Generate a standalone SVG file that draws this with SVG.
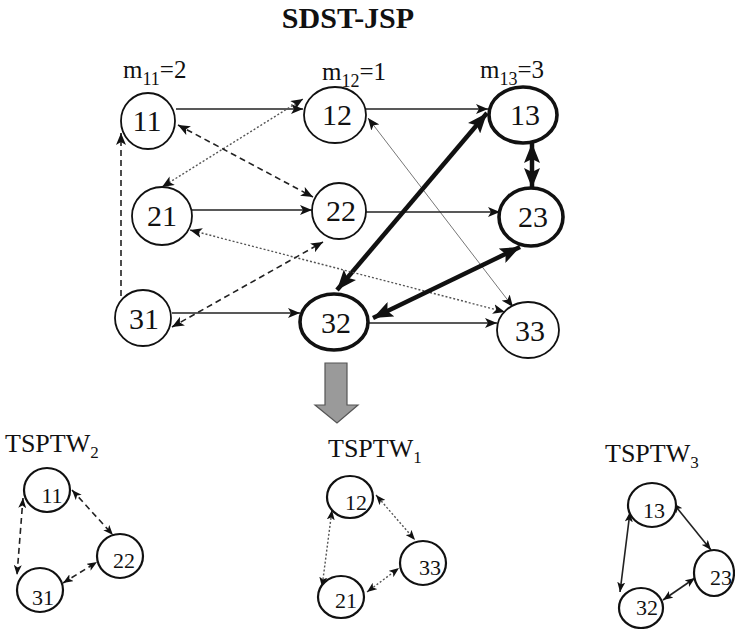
<svg xmlns="http://www.w3.org/2000/svg" width="735" height="629" viewBox="0 0 735 629">
<style>
  .t { font-family: "Liberation Serif", "Times New Roman", "DejaVu Serif", serif; fill: #111; }
  .nd { fill: #fff; stroke: #111; stroke-width: 1.8; }
  .ndb { fill: #fff; stroke: #111; stroke-width: 3.6; }
  .sn { fill: #fff; stroke: #111; stroke-width: 2.2; }
  .lbl { font-family: "Liberation Serif", "Times New Roman", serif; font-size: 30px; text-anchor: middle; fill: #111; }
  .sl { font-family: "Liberation Serif", "Times New Roman", serif; font-size: 22px; text-anchor: middle; fill: #111; }
  .solid { fill: none; stroke: #222; stroke-width: 1.6; }
  .dash { fill: none; stroke: #222; stroke-width: 1.6; stroke-dasharray: 6 4; }
  .dot { fill: none; stroke: #555; stroke-width: 1.4; stroke-dasharray: 2 2; }
  .thin { fill: none; stroke: #777; stroke-width: 1; }
  .thick { fill: none; stroke: #111; stroke-width: 4.5; }
</style>
<defs>
  <marker id="ah" viewBox="0 0 12 10" refX="12" refY="5" markerWidth="12" markerHeight="10" markerUnits="userSpaceOnUse" orient="auto-start-reverse">
    <path d="M0,0 L12,5 L0,10 L3,5 z" fill="#111"/>
  </marker>
  <marker id="ahb" viewBox="0 0 20 16" refX="20" refY="8" markerWidth="20" markerHeight="16" markerUnits="userSpaceOnUse" orient="auto-start-reverse">
    <path d="M0,0 L20,8 L0,16 L4,8 z" fill="#111"/>
  </marker>
  <marker id="ahs" viewBox="0 0 10 8" refX="10" refY="4" markerWidth="10" markerHeight="8" markerUnits="userSpaceOnUse" orient="auto-start-reverse">
    <path d="M0,0 L10,4 L0,8 L2.5,4 z" fill="#111"/>
  </marker>
</defs>

<text class="t" x="348" y="28" font-size="30" font-weight="bold" text-anchor="middle">SDST-JSP</text>
<text class="t" x="123" y="78" font-size="25">m<tspan font-size="18" dy="7">11</tspan><tspan dy="-7">=2</tspan></text>
<text class="t" x="322" y="80" font-size="25">m<tspan font-size="18" dy="7">12</tspan><tspan dy="-7">=1</tspan></text>
<text class="t" x="480" y="78" font-size="25">m<tspan font-size="18" dy="7">13</tspan><tspan dy="-7">=3</tspan></text>

<g id="connectors">
  <path class="solid" d="M176,109 L303,109" marker-end="url(#ah)"/>
  <path class="dot" d="M162,187 L303,99" marker-start="url(#ah)" marker-end="url(#ah)"/>
  <path class="dash" d="M178,125 L313,197" marker-start="url(#ah)" marker-end="url(#ah)"/>
  <path class="dash" d="M121,296 L121,133" marker-end="url(#ah)"/>
  <path class="solid" d="M192,210 L312,210" marker-end="url(#ah)"/>
  <path class="solid" d="M366,109 L488,109" marker-end="url(#ah)"/>
  <path class="thin" d="M368,118 L513,307" marker-start="url(#ah)" marker-end="url(#ah)"/>
  <path class="solid" d="M366,212 L500,212" marker-end="url(#ah)"/>
  <path class="thick" d="M337,290 L487,113" marker-start="url(#ahb)" marker-end="url(#ahb)"/>
  <path class="thick" d="M532,143 L532,188" marker-start="url(#ahb)" marker-end="url(#ahb)"/>
  <path class="dot" d="M190,230 L505,312" marker-start="url(#ah)" marker-end="url(#ah)"/>
  <path class="dash" d="M172,327 L323,242" marker-start="url(#ah)" marker-end="url(#ah)"/>
  <path class="solid" d="M172,313 L300,313" marker-end="url(#ah)"/>
  <path class="thick" d="M373,318 L520,247" marker-start="url(#ahb)" marker-end="url(#ahb)"/>
  <path class="solid" d="M368,323 L497,323" marker-end="url(#ah)"/>

  <path class="dash" d="M23,498 L17,575" marker-start="url(#ahs)" marker-end="url(#ahs)"/>
  <path class="dash" d="M72,490 L113,535" marker-start="url(#ahs)" marker-end="url(#ahs)"/>
  <path class="dash" d="M63,583 L97,562" marker-start="url(#ahs)" marker-end="url(#ahs)"/>
  <path class="dot" d="M332,510 L322,587" marker-start="url(#ahs)" marker-end="url(#ahs)"/>
  <path class="dot" d="M376,495 L415,540" marker-start="url(#ahs)" marker-end="url(#ahs)"/>
  <path class="dot" d="M367,592 L399,568" marker-start="url(#ahs)" marker-end="url(#ahs)"/>
  <path class="solid" d="M630,512 L620,592" marker-start="url(#ahs)" marker-end="url(#ahs)"/>
  <path class="solid" d="M673,503 L711,550" marker-start="url(#ahs)" marker-end="url(#ahs)"/>
  <path class="solid" d="M663,600 L695,578" marker-start="url(#ahs)" marker-end="url(#ahs)"/>
</g>

<g id="n11"><ellipse class="nd" cx="148" cy="121" rx="27" ry="28"/><text class="lbl" x="147" y="131">11</text></g>
<g id="n12"><ellipse class="nd" cx="335" cy="115" rx="31" ry="28"/><text class="lbl" x="337" y="125">12</text></g>
<g id="n13"><ellipse class="ndb" cx="523" cy="115" rx="34" ry="28"/><text class="lbl" x="525" y="125">13</text></g>
<g id="n21"><ellipse class="nd" cx="162" cy="216" rx="30" ry="29"/><text class="lbl" x="162" y="226">21</text></g>
<g id="n22"><ellipse class="nd" cx="339" cy="211" rx="27" ry="28"/><text class="lbl" x="341" y="221">22</text></g>
<g id="n23"><ellipse class="ndb" cx="531" cy="217" rx="32" ry="29"/><text class="lbl" x="533" y="227">23</text></g>
<g id="n31"><ellipse class="nd" cx="143" cy="318" rx="28" ry="28"/><text class="lbl" x="144" y="329">31</text></g>
<g id="n32"><ellipse class="ndb" cx="334" cy="322" rx="34" ry="28"/><text class="lbl" x="336" y="333">32</text></g>
<g id="n33"><ellipse class="nd" cx="528" cy="330" rx="31" ry="28"/><text class="lbl" x="530" y="341">33</text></g>

<g id="down-arrow"><polygon points="325,363 347,363 347,405 358,405 337,423 315,405 325,405" fill="#9a9a9a" stroke="#555" stroke-width="1.2"/></g>

<text class="t" x="5" y="452" font-size="26">TSPTW<tspan font-size="17" dy="6">2</tspan></text>
<text class="t" x="328" y="457" font-size="26">TSPTW<tspan font-size="17" dy="6">1</tspan></text>
<text class="t" x="605" y="462" font-size="26">TSPTW<tspan font-size="17" dy="6">3</tspan></text>

<g id="t2-11"><ellipse class="sn" cx="47" cy="490" rx="23" ry="22"/><text class="sl" x="52" y="503">11</text></g>
<g id="t2-22"><ellipse class="sn" cx="120" cy="556" rx="23" ry="22"/><text class="sl" x="124" y="568">22</text></g>
<g id="t2-31"><ellipse class="sn" cx="40" cy="590" rx="23" ry="22"/><text class="sl" x="43" y="605">31</text></g>

<g id="t1-12"><ellipse class="sn" cx="350" cy="497" rx="23" ry="21"/><text class="sl" x="356" y="510">12</text></g>
<g id="t1-33"><ellipse class="sn" cx="423" cy="563" rx="23" ry="22"/><text class="sl" x="430" y="575">33</text></g>
<g id="t1-21"><ellipse class="sn" cx="341" cy="597" rx="23" ry="21"/><text class="sl" x="346" y="608">21</text></g>

<g id="t3-13"><ellipse class="sn" cx="652" cy="505" rx="24" ry="22"/><text class="sl" x="654" y="518">13</text></g>
<g id="t3-23"><ellipse class="sn" cx="714" cy="573" rx="20" ry="23"/><text class="sl" x="721" y="585">23</text></g>
<g id="t3-32"><ellipse class="sn" cx="641" cy="608" rx="22" ry="20"/><text class="sl" x="647" y="615">32</text></g>
</svg>
